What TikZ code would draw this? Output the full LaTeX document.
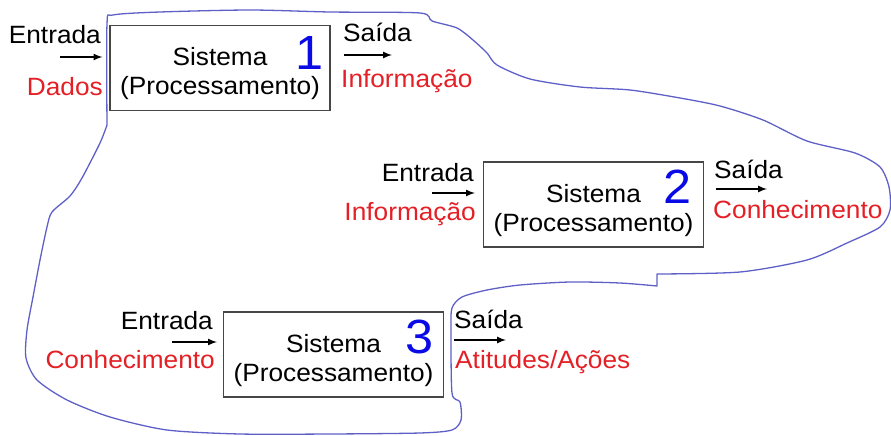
\documentclass[tikz,border=0pt]{standalone}
\usepackage{fontspec}
\setmainfont[FakeStretch=1.05]{Liberation Sans}
\usetikzlibrary{arrows,positioning}
\definecolor{vermelho}{RGB}{228,32,38}
\definecolor{azulnum}{RGB}{10,10,230}
\definecolor{azullinha}{RGB}{95,95,200}
\definecolor{cinzacaixa}{RGB}{70,70,70}

\begin{document}
\begin{tikzpicture}[x=1pt,y=-1pt,
    texto/.style={font=\fontsize{25}{29}\selectfont, inner sep=0pt},
    sistema/.style={draw=cinzacaixa, line width=1.2pt, minimum width=220pt, minimum height=85pt,
                    align=center, font=\fontsize{25}{29}\selectfont, inner sep=0pt, text height=59pt},
    numero/.style={font=\fontsize{48}{48}\selectfont, text=azulnum, inner sep=0pt},
    seta/.style={-latex, line width=2pt},
    contorno/.style={draw=azullinha, line width=1.3pt, line join=round}]
    \useasboundingbox (0,0) rectangle (891,436);

    % contorno
    \draw[contorno] plot[smooth, tension=.45] coordinates {(107,125) (107,24) (113,15) (160,12) (250,10) (330,12) (420,13)
        (432,21) (457,28) (473,40) (487,53) (497,65) (530,79) (580,87) (630,90) (680,98) (720,106) (763,120)
        (807,141) (855,153) (880,167) (889,187) (890,210) (880,227) (847,243) (807,260) (740,272) (657,274)}
        -- (657,286)
        -- plot[smooth, tension=.45] coordinates {(657,286) (620,283) (570,282) (520,285) (487,290) (462,297) (452,308)
        (451,330) (452,393) (460,402) (461,420) (452,430) (420,433) (330,434) (240,434) (167,430) (110,417)
        (67,400) (37,380) (26,358) (27,330) (33,297) (40,260) (47,227) (52,212) (70,196) (82,178) (100,143) (107,125)};

    % sistema 1
    \node[sistema] (s1) at (220,68) {Sistema\\(Processamento)};
    \node[numero, anchor=base east] (n1) at (324,70) {1};
    \node[texto, anchor=base east] (e1) at (101,44) {Entrada};
    \node[texto, anchor=base east, text=vermelho] (d1) at (103,95) {Dados};
    \node[texto, anchor=base west] (o1) at (343,42) {Saída};
    \node[texto, anchor=base west, text=vermelho] (i1) at (341,88) {Informação};
    \coordinate (a1) at (60,57);
    \coordinate (b1) at (392,55);
    \draw[seta, shorten >=7pt] (a1) -- (a1 -| s1.west);
    \draw[seta, shorten <=13pt] (b1 -| s1.east) -- (b1);

    % sistema 2
    \node[sistema] (s2) at (593.5,204.5) {Sistema\\(Processamento)};
    \node[numero, anchor=base east] (n2) at (692,203) {2};
    \node[texto, anchor=base east] (e2) at (474,181) {Entrada};
    \node[texto, anchor=base east, text=vermelho] (i2) at (476,220) {Informação};
    \node[texto, anchor=base west] (o2) at (714,178) {Saída};
    \node[texto, anchor=base west, text=vermelho] (c2) at (713,218) {Conhecimento};
    \coordinate (a2) at (432,193);
    \coordinate (b2) at (767,189);
    \draw[seta, shorten >=8pt] (a2) -- (a2 -| s2.west);
    \draw[seta, shorten <=12pt] (b2 -| s2.east) -- (b2);

    % sistema 3
    \node[sistema] (s3) at (333.5,354.5) {Sistema\\(Processamento)};
    \node[numero, anchor=base east] (n3) at (434,353) {3};
    \node[texto, anchor=base east] (e3) at (213,329) {Entrada};
    \node[texto, anchor=base east, text=vermelho] (c3) at (215,368) {Conhecimento};
    \node[texto, anchor=base west] (o3) at (454,328) {Saída};
    \node[texto, anchor=base west, text=vermelho] (t3) at (455,368) {Atitudes/Ações};
    \coordinate (a3) at (172,342);
    \coordinate (b3) at (506,340);
    \draw[seta, shorten >=6pt] (a3) -- (a3 -| s3.west);
    \draw[seta, shorten <=10pt] (b3 -| s3.east) -- (b3);
\end{tikzpicture}
\end{document}
